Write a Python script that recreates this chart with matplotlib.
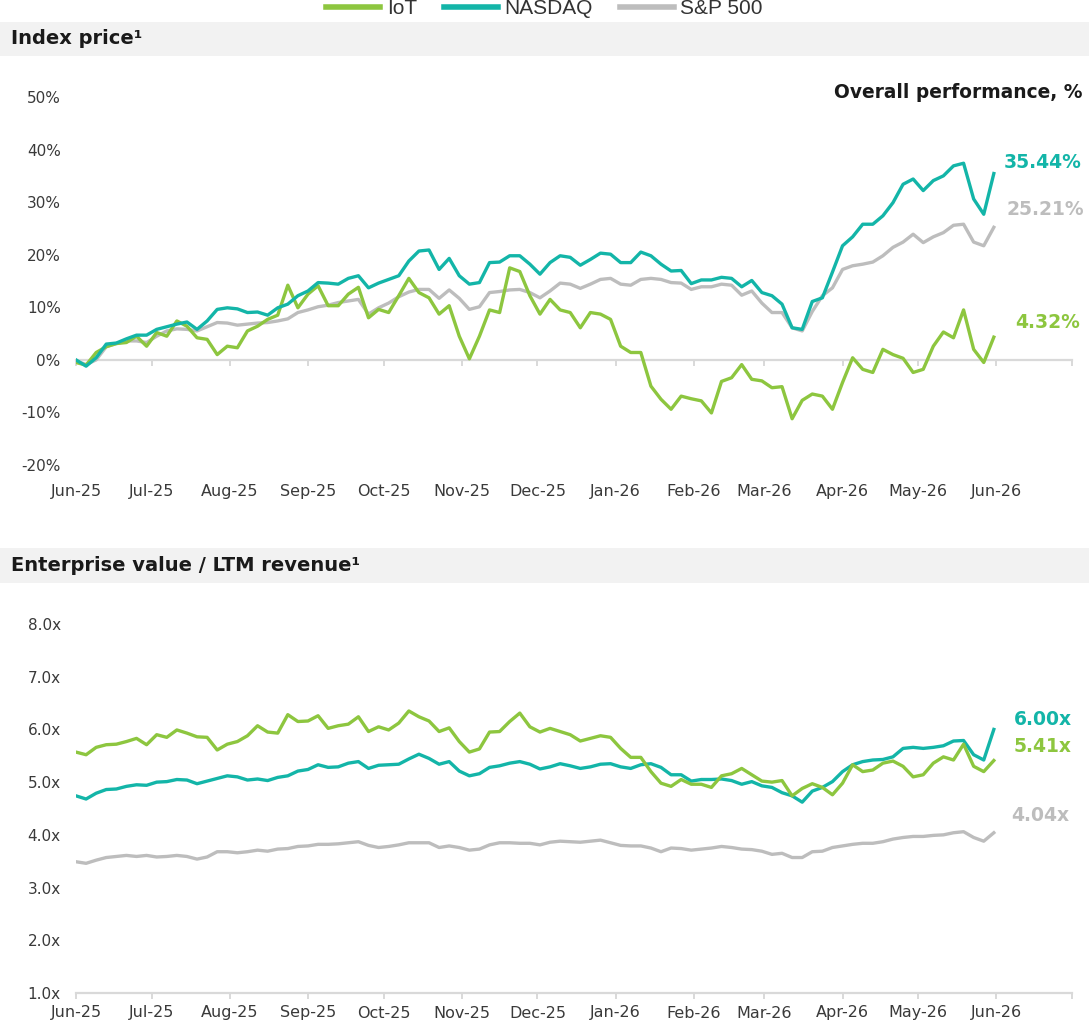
import matplotlib
matplotlib.use('Agg')
import matplotlib.pyplot as plt
import matplotlib.dates as mdates
from matplotlib.patches import Rectangle
from matplotlib.lines import Line2D
import pandas as pd

# ---------------- data ----------------
dates = pd.date_range('2025-06-01', periods=92, freq='4D')
month_ticks = pd.date_range('2025-06-01', '2026-07-01', freq='MS')
month_labels = ['Jun-25', 'Jul-25', 'Aug-25', 'Sep-25', 'Oct-25', 'Nov-25', 'Dec-25',
                'Jan-26', 'Feb-26', 'Mar-26', 'Apr-26', 'May-26', 'Jun-26', '']

series_names = ['IoT', 'NASDAQ', 'S&P 500']

iot_price = [-0.5, -1.0, 1.4, 2.5, 3.1, 3.3, 4.5, 2.6, 5.2, 4.5, 7.4, 6.4, 4.2, 3.9, 1.0, 2.6,
             2.3, 5.5, 6.4, 7.7, 8.5, 14.2, 9.9, 12.5, 14.1, 10.3, 10.3, 12.5, 13.8, 8.0, 9.6, 9.0,
             12.2, 15.5, 12.8, 11.8, 8.7, 10.3, 4.5, 0.2, 4.5, 9.5, 9.0, 17.5, 16.8, 12.2, 8.7, 11.5,
             9.5, 9.0, 6.1, 9.0, 8.7, 7.7, 2.6, 1.4, 1.4, -5.0, -7.5, -9.4, -6.9, -7.4, -7.8, -10.1,
             -4.1, -3.4, -0.9, -3.7, -4.0, -5.3, -5.1, -11.2, -7.7, -6.5, -6.9, -9.4, -4.3, 0.4,
             -1.8, -2.4, 2.0, 1.0, 0.3, -2.4, -1.8, 2.6, 5.3, 4.2, 9.5, 2.0, -0.5, 4.32]
nasdaq_price = [0.0, -1.2, 0.4, 3.0, 3.2, 4.0, 4.7, 4.7, 5.8, 6.3, 6.8, 7.2, 5.8, 7.4, 9.6, 9.9,
                9.7, 9.0, 9.1, 8.5, 9.9, 10.6, 12.2, 13.1, 14.7, 14.6, 14.4, 15.5, 16.0, 13.7, 14.6, 15.3,
                16.0, 18.8, 20.7, 20.9, 17.2, 19.3, 16.0, 14.4, 14.7, 18.5, 18.6, 19.8, 19.8, 18.2, 16.3, 18.5,
                19.8, 19.5, 18.0, 19.1, 20.3, 20.1, 18.5, 18.5, 20.5, 19.8, 18.2, 16.9, 17.0, 14.5, 15.2, 15.2,
                15.7, 15.5, 13.9, 15.1, 12.8, 12.2, 10.6, 6.1, 5.8, 11.1, 11.8, 16.7, 21.7, 23.4,
                25.8, 25.8, 27.4, 29.9, 33.4, 34.4, 32.2, 34.1, 35.0, 36.9, 37.4, 30.6, 27.7, 35.44]
sp500_price = [-0.2, -0.9, 0.0, 2.5, 3.1, 3.6, 3.6, 3.3, 4.5, 5.5, 5.9, 5.8, 5.5, 6.3, 7.1, 7.0,
               6.6, 6.8, 7.0, 7.1, 7.4, 7.8, 9.0, 9.5, 10.1, 10.4, 10.9, 11.2, 11.5, 8.7, 9.9, 10.8,
               12.0, 12.9, 13.4, 13.4, 11.7, 13.3, 11.7, 9.6, 10.1, 12.8, 13.0, 13.3, 13.4, 12.8, 11.8, 13.1,
               14.6, 14.4, 13.6, 14.4, 15.3, 15.5, 14.4, 14.2, 15.3, 15.5, 15.3, 14.7, 14.6, 13.4, 13.9, 13.9,
               14.4, 14.2, 12.3, 13.1, 10.8, 9.0, 9.0, 6.1, 5.5, 9.2, 12.2, 13.7, 17.2, 17.9,
               18.2, 18.6, 19.8, 21.4, 22.4, 23.9, 22.3, 23.4, 24.2, 25.6, 25.8, 22.4, 21.7, 25.21]

iot_ev = [5.57, 5.52, 5.66, 5.71, 5.72, 5.77, 5.83, 5.71, 5.90, 5.85, 5.99, 5.93, 5.86, 5.85, 5.61, 5.72,
          5.77, 5.88, 6.07, 5.95, 5.93, 6.28, 6.15, 6.16, 6.26, 6.02, 6.07, 6.10, 6.24, 5.96, 6.05, 5.99,
          6.12, 6.35, 6.24, 6.16, 5.96, 6.03, 5.77, 5.57, 5.63, 5.95, 5.96, 6.15, 6.31, 6.05, 5.95, 6.02,
          5.96, 5.90, 5.78, 5.83, 5.88, 5.85, 5.64, 5.47, 5.47, 5.20, 4.98, 4.92, 5.05, 4.96, 4.96, 4.90,
          5.12, 5.16, 5.26, 5.14, 5.02, 5.00, 5.03, 4.74, 4.88, 4.97, 4.90, 4.76, 4.98, 5.33,
          5.20, 5.23, 5.36, 5.40, 5.30, 5.10, 5.14, 5.36, 5.48, 5.42, 5.72, 5.30, 5.20, 5.41]
nasdaq_ev = [4.74, 4.68, 4.79, 4.86, 4.87, 4.92, 4.95, 4.94, 5.00, 5.01, 5.05, 5.04, 4.97, 5.02, 5.07, 5.12,
             5.10, 5.04, 5.06, 5.03, 5.09, 5.12, 5.21, 5.24, 5.33, 5.28, 5.29, 5.36, 5.39, 5.26, 5.32, 5.33,
             5.34, 5.44, 5.53, 5.45, 5.34, 5.39, 5.21, 5.12, 5.16, 5.28, 5.31, 5.36, 5.39, 5.34, 5.25, 5.29,
             5.35, 5.31, 5.26, 5.29, 5.34, 5.35, 5.29, 5.26, 5.33, 5.35, 5.28, 5.14, 5.14, 5.02, 5.05, 5.05,
             5.06, 5.03, 4.96, 5.01, 4.93, 4.90, 4.80, 4.74, 4.62, 4.83, 4.90, 5.01, 5.20, 5.33,
             5.39, 5.42, 5.43, 5.48, 5.64, 5.66, 5.64, 5.66, 5.69, 5.78, 5.79, 5.52, 5.42, 6.00]
sp500_ev = [3.49, 3.46, 3.52, 3.57, 3.59, 3.61, 3.59, 3.61, 3.58, 3.59, 3.61, 3.59, 3.54, 3.58, 3.68, 3.68,
            3.66, 3.68, 3.71, 3.69, 3.73, 3.74, 3.78, 3.79, 3.82, 3.82, 3.83, 3.85, 3.87, 3.80, 3.76, 3.78,
            3.81, 3.85, 3.85, 3.85, 3.76, 3.79, 3.76, 3.71, 3.73, 3.81, 3.85, 3.85, 3.84, 3.84, 3.81, 3.86,
            3.88, 3.87, 3.86, 3.88, 3.90, 3.85, 3.80, 3.79, 3.79, 3.75, 3.68, 3.75, 3.74, 3.71, 3.73, 3.75,
            3.78, 3.76, 3.73, 3.72, 3.69, 3.63, 3.65, 3.57, 3.57, 3.68, 3.69, 3.76, 3.79, 3.82,
            3.84, 3.84, 3.87, 3.92, 3.95, 3.97, 3.97, 3.99, 4.00, 4.04, 4.06, 3.95, 3.88, 4.04]

price_end_labels = ['4.32%', '35.44%', '25.21%']
ev_end_labels = ['5.41x', '6.00x', '4.04x']

price_ticks = [-20, -10, 0, 10, 20, 30, 40, 50]
ev_ticks = [1, 2, 3, 4, 5, 6, 7, 8]

# ---------------- style ----------------
colors = ['#8DC63F', '#13B5A8', '#BDBDBD']
axis_grey = '#D9D9D9'
text_grey = '#3A3A3A'
plt.rcParams['font.family'] = ['DejaVu Sans']

W, H = 1089, 1024
fig = plt.figure(figsize=(W / 100, H / 100), dpi=100)

x = mdates.date2num(dates.to_pydatetime())
mx = mdates.date2num(month_ticks.to_pydatetime())


def fx(px):
    return px / W


def fy(py):
    return 1 - py / H


# header bands
for top, bot, title in [(22, 56, 'Index price\u00b9'), (548, 583, 'Enterprise value / LTM revenue\u00b9')]:
    fig.patches.append(Rectangle((0, fy(bot)), 1, (bot - top) / H, transform=fig.transFigure,
                                 facecolor='#F2F2F2', edgecolor='none', zorder=0))
    fig.text(fx(11), fy((top + bot) / 2), title, fontsize=14, fontweight='bold',
             color='#1A1A1A', va='center', ha='left')

# legend
handles = [Line2D([], [], color=c, lw=4) for c in colors]
fig.legend(handles, series_names, loc='center', bbox_to_anchor=(0.5, fy(9)), ncol=3,
           frameon=False, prop={'family': 'Liberation Sans', 'size': 15},
           handlelength=2.6, handletextpad=0.3, columnspacing=1.3, borderpad=0,
           labelcolor='#333333')


def style_axis(ax):
    for s in ['top', 'right', 'left']:
        ax.spines[s].set_visible(False)
    ax.tick_params(axis='y', length=0, pad=11, labelsize=11, labelcolor=text_grey)
    ax.set_xlim(mx[0], mx[-1])


# ---------------- top panel ----------------
ax1 = fig.add_axes([fx(76), fy(465), fx(996), 368 / H])
style_axis(ax1)
ax1.spines['bottom'].set_visible(False)
ax1.set_ylim(-20, 50)
ax1.set_yticks(price_ticks)
ax1.set_yticklabels([f'{v}%' for v in price_ticks])
ax1.set_xticks(mx[:-1])
ax1.set_xticklabels(month_labels[:-1])
ax1.tick_params(axis='x', length=0, pad=14, labelsize=11.5, labelcolor=text_grey)

zero_frac = (0 - (-20)) / 70
sec = ax1.secondary_xaxis(zero_frac)
sec.spines['bottom'].set_color(axis_grey)
sec.spines['bottom'].set_linewidth(1.6)
sec.set_xticks(mx)
sec.set_xticklabels([''] * len(mx))
sec.tick_params(axis='x', length=4, width=1.4, color=axis_grey, direction='out')

price_series = [iot_price, nasdaq_price, sp500_price]
offsets_top = [(21, 15), (10, 11), (13, 18)]
for order in [2, 0, 1]:
    vals = price_series[order]
    ax1.plot(x, vals, color=colors[order], lw=2.4, solid_joinstyle='round', zorder=3 + (order == 1))
for i, vals in enumerate(price_series):
    ax1.annotate(price_end_labels[i], xy=(x[-1], vals[-1]), xytext=offsets_top[i],
                 textcoords='offset pixels', color=colors[i], fontsize=13.5, fontweight='bold',
                 ha='left', va='center', annotation_clip=False)

fig.text(fx(1082), fy(92), 'Overall performance, %', fontsize=13.4, fontweight='bold',
         color='#1A1A1A', ha='right', va='center')

# ---------------- bottom panel ----------------
ax2 = fig.add_axes([fx(76), fy(993), fx(996), (993 - 624) / H])
style_axis(ax2)
ax2.set_ylim(1, 8)
ax2.set_yticks(ev_ticks)
ax2.set_yticklabels([f'{v:.1f}x' for v in ev_ticks])
ax2.spines['bottom'].set_color(axis_grey)
ax2.spines['bottom'].set_linewidth(1.6)
ax2.set_xticks(mx)
ax2.set_xticklabels(month_labels)
ax2.tick_params(axis='x', length=4, width=1.4, color=axis_grey, pad=5, labelsize=11.5,
                labelcolor=text_grey)

ev_series = [iot_ev, nasdaq_ev, sp500_ev]
offsets_bot = [(20, 14), (20, 10), (17, 17)]
for order in [2, 1, 0]:
    vals = ev_series[order]
    ax2.plot(x, vals, color=colors[order], lw=2.4, solid_joinstyle='round', zorder=3)
for i, vals in enumerate(ev_series):
    ax2.annotate(ev_end_labels[i], xy=(x[-1], vals[-1]), xytext=offsets_bot[i],
                 textcoords='offset pixels', color=colors[i], fontsize=13.5, fontweight='bold',
                 ha='left', va='center', annotation_clip=False)

fig.savefig('out.png', dpi=100)
